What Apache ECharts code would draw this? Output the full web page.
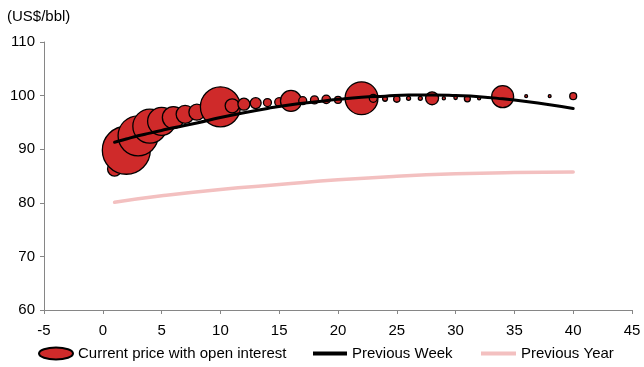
<!DOCTYPE html>
<html>
<head>
<meta charset="utf-8">
<title>Forward curve</title>
<script src="https://cdn.jsdelivr.net/npm/echarts@6/dist/echarts.min.js"></script>
<style>
  html, body { margin: 0; padding: 0; background: #fff; }
  #chart { width: 644px; height: 367px; }
</style>
</head>
<body>
<div id="chart"></div>
<script>
// Current curve: contract month, price (US$/bbl), open interest ('000 contracts)
var contractMonths = [1, 2, 3, 4, 5, 6, 7, 8, 9, 10, 11, 12, 13, 14, 15, 16, 17, 18, 19, 20, 21, 22, 23, 24, 25, 26, 27, 28, 29, 30, 31, 32, 34, 36, 38, 40];
var currentPrice = [86.3, 89.8, 92.5, 94.3, 95.2, 95.9, 96.5, 96.9, 97.3, 97.9, 98.1, 98.4, 98.6, 98.7, 98.8, 99.0, 99.05, 99.2, 99.3, 99.2, 99.3, 99.5, 99.5, 99.4, 99.35, 99.5, 99.5, 99.5, 99.5, 99.6, 99.4, 99.5, 99.8, 99.9, 99.9, 99.9];
var openInterest = [49, 576, 400, 289, 196, 121, 81, 64, 49, 400, 49, 36, 30, 16, 20, 110, 16, 16, 18, 12, 9, 270, 16, 6, 10, 4, 4, 42, 2.5, 3, 9, 2.5, 121, 2, 2, 12];

// Previous week curve
var weekMonths = [1, 2, 3, 4, 5, 6, 8, 10, 12, 14, 16, 18, 20, 22, 24, 26, 28, 30, 32, 34, 36, 38, 40];
var weekPrice = [91.3, 91.9, 92.5, 93.0, 93.5, 94.0, 94.9, 95.9, 96.8, 97.6, 98.3, 98.8, 99.3, 99.7, 99.9, 100.1, 100.1, 100.0, 99.8, 99.4, 98.9, 98.3, 97.6];

// Previous year curve
var yearMonths = [1, 5, 10, 15, 20, 25, 30, 35, 40];
var yearPrice = [80.1, 81.3, 82.5, 83.4, 84.3, 84.95, 85.4, 85.65, 85.75];

var xTicks = { min: -5, max: 45, interval: 5 };
var yTicks = { min: 60, max: 110, interval: 10 };

function zipPoints(xs, ys, extra) {
  return xs.map(function (x, i) {
    return extra ? [x, ys[i], extra[i]] : [x, ys[i]];
  });
}

var FONT = '"Liberation Sans", Arial, sans-serif';
var FS = 15;
var ELLIPSE = 'path://M0,6 A17,6 0 1,1 34,6 A17,6 0 1,1 0,6 Z';

var chart = echarts.init(document.getElementById('chart'), null, { renderer: 'canvas' });

var axisCommon = {
  type: 'value',
  axisLine: { show: true, onZero: false, lineStyle: { color: '#868686', width: 1 } },
  axisTick: { show: true, inside: false, length: 4, lineStyle: { color: '#868686' } },
  splitLine: { show: false },
  axisLabel: { color: '#000', fontSize: FS, fontFamily: FONT }
};

var legendText = { color: '#000', fontSize: FS, fontFamily: FONT };

chart.setOption({
  animation: false,
  backgroundColor: '#fff',
  textStyle: { fontFamily: FONT },
  grid: { left: 44, right: 12, top: 42, bottom: 57, containLabel: false },
  xAxis: Object.assign({}, axisCommon, {
    min: xTicks.min, max: xTicks.max, interval: xTicks.interval,
    axisLabel: Object.assign({}, axisCommon.axisLabel, { margin: 13 })
  }),
  yAxis: Object.assign({}, axisCommon, {
    min: yTicks.min, max: yTicks.max, interval: yTicks.interval,
    axisLabel: Object.assign({}, axisCommon.axisLabel, { margin: 9 })
  }),
  graphic: [{
    type: 'text', left: 7, top: 9,
    style: { text: '(US$/bbl)', fontSize: FS, fontFamily: FONT, fill: '#000' }
  }],
  legend: [
    {
      left: 38, top: 346, padding: 0, itemWidth: 34, itemHeight: 12,
      textStyle: legendText,
      data: [{ name: 'Current price with open interest', icon: ELLIPSE }]
    },
    {
      left: 313, top: 346, padding: 0, itemWidth: 34, itemHeight: 4,
      textStyle: legendText,
      data: [{ name: 'Previous Week', icon: 'rect' }]
    },
    {
      left: 481, top: 346, padding: 0, itemWidth: 35, itemHeight: 4,
      textStyle: legendText,
      data: [{ name: 'Previous Year', icon: 'rect' }]
    }
  ],
  series: [
    {
      name: 'Previous Year',
      type: 'line',
      color: '#f3c0c0',
      smooth: true,
      showSymbol: false,
      z: 1,
      lineStyle: { color: '#f3c0c0', width: 3.5, cap: 'round' },
      data: zipPoints(yearMonths, yearPrice)
    },
    {
      name: 'Current price with open interest',
      type: 'scatter',
      z: 2,
      itemStyle: { color: '#cf2a2a', borderColor: '#000', borderWidth: 1.3, opacity: 1 },
      symbolSize: function (d) { return 2 * Math.sqrt(d[2]); },
      data: zipPoints(contractMonths, currentPrice, openInterest)
    },
    {
      name: 'Previous Week',
      type: 'line',
      color: '#000',
      smooth: true,
      showSymbol: false,
      z: 3,
      lineStyle: { color: '#000', width: 3, cap: 'round' },
      data: zipPoints(weekMonths, weekPrice)
    }
  ]
});
</script>
</body>
</html>
